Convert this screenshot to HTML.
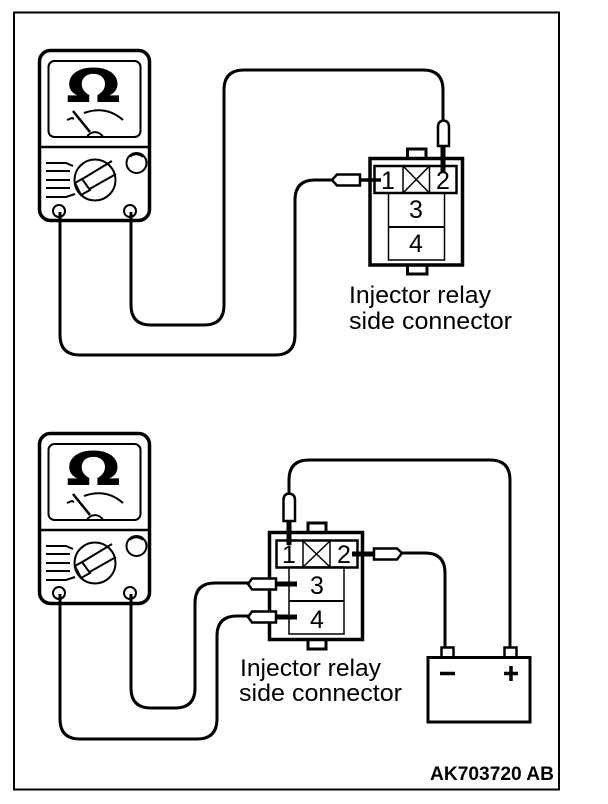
<!DOCTYPE html>
<html>
<head>
<meta charset="utf-8">
<style>
html,body{margin:0;padding:0;background:#fff;width:608px;height:804px;overflow:hidden}
svg{display:block}
text{font-family:"Liberation Sans",sans-serif;fill:#000}
.l{font-size:24px}
.n{font-size:25px}
.o{font-family:"DejaVu Sans",sans-serif;font-weight:bold;font-size:46px}
</style>
</head>
<body>
<svg width="608" height="804" viewBox="0 0 608 804" fill="none" stroke="#000" stroke-linecap="butt">
<rect width="608" height="804" fill="#fff" stroke="none"/>
<rect x="14" y="12.5" width="545" height="777" stroke-width="2"/>

<!-- Meter 1 -->
<g>
<rect x="39.500" y="50.500" width="110" height="170" rx="11" stroke-width="3.500"/>
<rect x="48.500" y="61" width="92" height="76" rx="6" stroke-width="2"/>
<line x1="39" y1="147" x2="150" y2="147" stroke-width="2.500"/>
<text class="o" transform="translate(66,102) scale(1.4,1)" stroke="none">Ω</text>
<path d="M67 120 L72 118 L74 119 M84 113 Q106 105 123 120" stroke-width="2"/>
<path d="M73 111 L90 132" stroke-width="2.500"/>
<path d="M87 137 A9 9 0 0 1 103 137" stroke-width="2"/>
<circle cx="95" cy="180" r="20.5" stroke-width="2"/>
<path d="M79 181 L112 161 M86 191 L116 174" stroke-width="2"/>
<path d="M75 183 L82 179 L90 190 L81 195 Z" stroke-width="2" fill="#fff"/>
<path d="M46 163 H66 L73 166 M46 171 H70 M46 180 H70 M46 188 H70 M46 197 H66 L75 194" stroke-width="2"/>
<circle cx="136.500" cy="163" r="10" stroke-width="2"/>
<path d="M130 157 Q136 152 143 157" stroke-width="1.500"/>
<circle cx="59" cy="211" r="6" stroke-width="2"/>
<circle cx="130" cy="211" r="6" stroke-width="2"/>
</g>

<!-- Wires 1 -->
<path d="M60 212 V335 Q60 355 80 355 H275 Q295 355 295 335 V200 Q295 180 315 180 H333" stroke-width="3"/>
<path d="M131 212 V305 Q131 325 151 325 H204 Q224 325 224 305 V90 Q224 70 244 70 H423 Q443 70 443 90 V122" stroke-width="3"/>

<!-- Connector 1 -->
<rect x="370" y="158.500" width="92.500" height="106.500" stroke-width="3.500" fill="#fff"/>
<path d="M407.500 157 V149 H426 V157" stroke-width="3"/>
<path d="M407.500 266 V274 H427 V266" stroke-width="3"/>
<rect x="374.500" y="166" width="82" height="27" stroke-width="2.500" fill="#fff"/>
<rect x="388.500" y="193" width="56" height="67" stroke-width="1.500"/>
<line x1="388" y1="227" x2="444" y2="227" stroke-width="2"/>
<path d="M403 166 V193 M429.500 166 V193 M403 166 L429.500 193 M429.500 166 L403 193" stroke-width="1.500"/>
<text class="n" x="381" y="189" stroke="none">1</text>
<text class="n" x="436" y="189" stroke="none">2</text>
<text class="n" x="409" y="218" stroke="none">3</text>
<text class="n" x="409" y="252" stroke="none">4</text>
<path d="M361 180 H381" stroke-width="3.500"/>
<path d="M332 180 L337 174.500 H360 V185.500 H337 Z" stroke-width="2.500" fill="#fff"/>
<path d="M443 146 V172" stroke-width="5"/>
<path d="M438 146 V127 Q438 121 443.500 120.500 Q449 121 449 127 V146 Z" stroke-width="2.500" fill="#fff"/>
<text class="l" x="349" y="303" stroke="none" textLength="142" lengthAdjust="spacingAndGlyphs">Injector relay</text>
<text class="l" x="349" y="329" stroke="none" textLength="163" lengthAdjust="spacingAndGlyphs">side connector</text>

<!-- Meter 2 -->
<g transform="translate(0,383)">
<rect x="39.500" y="50.500" width="110" height="170" rx="11" stroke-width="3.500"/>
<rect x="48.500" y="61" width="92" height="76" rx="6" stroke-width="2"/>
<line x1="39" y1="147" x2="150" y2="147" stroke-width="2.500"/>
<text class="o" transform="translate(66,102) scale(1.4,1)" stroke="none">Ω</text>
<path d="M67 120 L72 118 L74 119 M84 113 Q106 105 123 120" stroke-width="2"/>
<path d="M73 111 L90 132" stroke-width="2.500"/>
<path d="M87 137 A9 9 0 0 1 103 137" stroke-width="2"/>
<circle cx="95" cy="180" r="20.5" stroke-width="2"/>
<path d="M79 181 L112 161 M86 191 L116 174" stroke-width="2"/>
<path d="M75 183 L82 179 L90 190 L81 195 Z" stroke-width="2" fill="#fff"/>
<path d="M46 163 H66 L73 166 M46 171 H70 M46 180 H70 M46 188 H70 M46 197 H66 L75 194" stroke-width="2"/>
<circle cx="136.500" cy="163" r="10" stroke-width="2"/>
<path d="M130 157 Q136 152 143 157" stroke-width="1.500"/>
<circle cx="59" cy="210" r="6" stroke-width="2"/>
<circle cx="130" cy="210" r="6" stroke-width="2"/>
</g>

<!-- Wires 2 -->
<path d="M60 594 V719 Q60 739 80 739 H197 Q217 739 217 719 V636 Q217 616 237 616 H248" stroke-width="3"/>
<path d="M131 594 V688 Q131 708 151 708 H175 Q195 708 195 688 V603 Q195 583 215 583 H248" stroke-width="3"/>
<path d="M289 494 V480 Q289 460 309 460 H490 Q510 460 510 480 V647" stroke-width="3"/>
<path d="M402 553 H425 Q445 553 445 573 V647" stroke-width="3"/>

<!-- Connector 2 -->
<rect x="269.500" y="532.500" width="93" height="107" stroke-width="3.500" fill="#fff"/>
<path d="M308 531 V523 H326 V531" stroke-width="3"/>
<path d="M308 641 V649 H326 V641" stroke-width="3"/>
<rect x="276.500" y="540.500" width="81" height="27" stroke-width="2.500" fill="#fff"/>
<rect x="289" y="567" width="55" height="67" stroke-width="1.500"/>
<line x1="289" y1="601" x2="344" y2="601" stroke-width="2"/>
<path d="M303 541 V567 M330 541 V567 M303 541 L330 567 M330 541 L303 567" stroke-width="1.500"/>
<text class="n" x="282" y="563" stroke="none">1</text>
<text class="n" x="337" y="563" stroke="none">2</text>
<text class="n" x="310" y="594" stroke="none">3</text>
<text class="n" x="310" y="628" stroke="none">4</text>
<path d="M289 521 V545" stroke-width="5"/>
<path d="M283.500 521 V500 Q283.500 494 289 493.500 Q295 494 295 500 V521 Z" stroke-width="2.500" fill="#fff"/>
<path d="M352 554 H374" stroke-width="5"/>
<path d="M374 548.500 H397 L402 553 L397 559.500 H374 Z" stroke-width="2.500" fill="#fff"/>
<path d="M275 584 H297" stroke-width="5"/>
<path d="M275 617 H297" stroke-width="5"/>
<path d="M248 584 L252 578.500 H276 V589.500 H252 Z" stroke-width="2.500" fill="#fff"/>
<path d="M248 617 L252 611.500 H276 V622.500 H252 Z" stroke-width="2.500" fill="#fff"/>
<text class="l" x="240" y="676" stroke="none" textLength="141" lengthAdjust="spacingAndGlyphs">Injector relay</text>
<text class="l" x="239" y="701" stroke="none" textLength="163" lengthAdjust="spacingAndGlyphs">side connector</text>

<!-- Battery -->
<rect x="428" y="657.500" width="102" height="64.500" stroke-width="3"/>
<rect x="441.500" y="647.500" width="12" height="10" stroke-width="2.500"/>
<rect x="504.500" y="647.500" width="12" height="10" stroke-width="2.500"/>
<path d="M440 673.500 H455" stroke-width="3.500"/>
<path d="M504 673.500 H518 M511 666 V681" stroke-width="3.500"/>

<text x="430" y="780" font-size="19.500" font-weight="bold" stroke="none" textLength="124" lengthAdjust="spacingAndGlyphs">AK703720 AB</text>
</svg>
</body>
</html>
